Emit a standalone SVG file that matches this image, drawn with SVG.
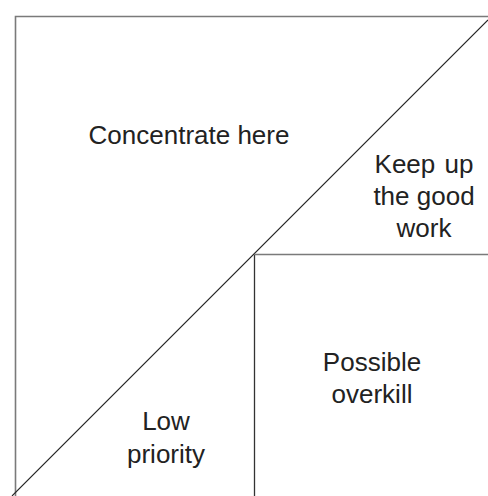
<svg xmlns="http://www.w3.org/2000/svg" width="488" height="496" viewBox="0 0 488 496">
  <style>
    .frame { fill: none; stroke: #7a7a7a; stroke-width: 1.6; }
    .inner { fill: none; stroke: #333333; stroke-width: 1.3; }
    .diag { fill: none; stroke: #222222; stroke-width: 1.1; }
    .lbl { font-family: "Liberation Sans", Arial, sans-serif; font-size: 26px; fill: #222222; text-anchor: middle; }
  </style>
  <rect width="488" height="496" fill="#ffffff"/>
  <!-- outer frame: top and left edges -->
  <g id="frame">
    <path class="frame" d="M15.5,496 V16.5 H488"/>
  </g>
  <g id="connectors">
    <!-- diagonal split -->
    <line class="diag" x1="12" y1="496" x2="488" y2="20"/>
    <!-- lower-right quadrant -->
    <path class="inner" d="M254.5,496 V254.5"/>
    <path class="frame" d="M254.5,254.5 H488"/>
  </g>
  <g id="concentrate">
    <text class="lbl" x="189" y="144">Concentrate here</text>
  </g>
  <g id="keep-up">
    <text class="lbl" x="424" y="173" word-spacing="2">Keep up</text>
    <text class="lbl" x="424" y="205">the good</text>
    <text class="lbl" x="424" y="237">work</text>
  </g>
  <g id="overkill">
    <text class="lbl" x="372" y="371">Possible</text>
    <text class="lbl" x="372" y="403">overkill</text>
  </g>
  <g id="low-priority">
    <text class="lbl" x="166" y="430">Low</text>
    <text class="lbl" x="166" y="463">priority</text>
  </g>
</svg>
